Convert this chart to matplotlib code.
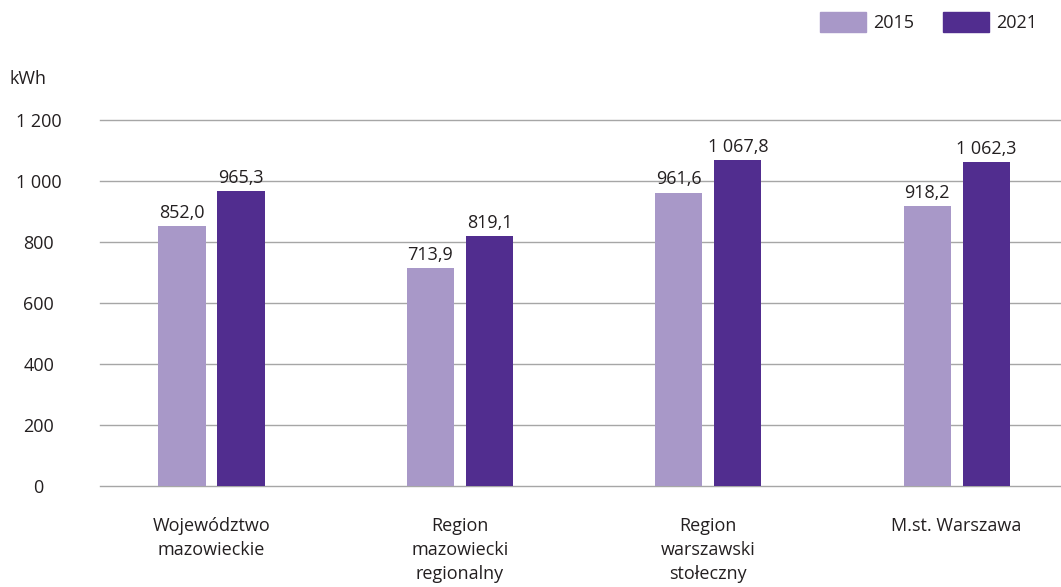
import matplotlib
matplotlib.use("Agg")
import matplotlib.pyplot as plt
import numpy as np
from matplotlib.patches import Patch

# Dane
kategorie = ["Województwo\nmazowieckie", "Region\nmazowiecki\nregionalny",
             "Region\nwarszawski\nstołeczny", "M.st. Warszawa"]
lata = ["2015", "2021"]
wartosci_2015 = [852.0, 713.9, 961.6, 918.2]
wartosci_2021 = [965.3, 819.1, 1067.8, 1062.3]
yticks = [0, 200, 400, 600, 800, 1000, 1200]

kolor_2015 = "#a898c8"
kolor_2021 = "#512d8f"
tekst = "#231f20"
fs = 13

plt.rcParams["font.family"] = ["Open Sans", "DejaVu Sans"]


def fmt(v, dec=1):
    s = f"{v:,.{dec}f}"
    return s.replace(",", " ").replace(".", ",")


fig = plt.figure(figsize=(10.61, 5.87), dpi=100)
ax = fig.add_axes([0.094, 0.172, 0.906, 0.624])

x = np.arange(len(kategorie))
w = 0.19
off = 0.119
b1 = ax.bar(x - off, wartosci_2015, w, color=kolor_2015, zorder=3)
b2 = ax.bar(x + off, wartosci_2021, w, color=kolor_2021, zorder=3)

for bars, vals in [(b1, wartosci_2015), (b2, wartosci_2021)]:
    for b, v in zip(bars, vals):
        ax.annotate(fmt(v), (b.get_x() + b.get_width() / 2, v),
                    xytext=(0, 3), textcoords="offset points",
                    ha="center", va="bottom", fontsize=fs, color=tekst)

ax.set_ylim(0, 1200)
ax.set_xlim(-0.45, 3.42)
ax.set_yticks(yticks)
ax.set_yticklabels([fmt(t, 0) for t in yticks], fontsize=fs, color=tekst)
ax.set_xticks(x)
ax.set_xticklabels(kategorie, fontsize=fs, color=tekst, linespacing=1.45, va="top")
ax.tick_params(axis="both", length=0)
ax.tick_params(axis="x", pad=22)
for lab in ax.get_yticklabels():
    lab.set_horizontalalignment("center")
ax.tick_params(axis="y", pad=44)

ax.grid(axis="y", color="#a6a6a6", linewidth=1, zorder=0)
for gl in ax.get_ygridlines():
    gl.set_clip_on(False)
for s in ax.spines.values():
    s.set_visible(False)

fig.text(0.009, 0.865, "kWh", fontsize=fs, color=tekst, va="center", ha="left")

uchwyty = [Patch(color=kolor_2015), Patch(color=kolor_2021)]
fig.legend(uchwyty, lata, loc="upper right", bbox_to_anchor=(0.993, 1.008), ncol=2,
           frameon=False, fontsize=fs, handlelength=2.55, handleheight=1.4,
           handletextpad=0.4, columnspacing=1.6, labelcolor=tekst)

fig.savefig("out.png", dpi=100)
